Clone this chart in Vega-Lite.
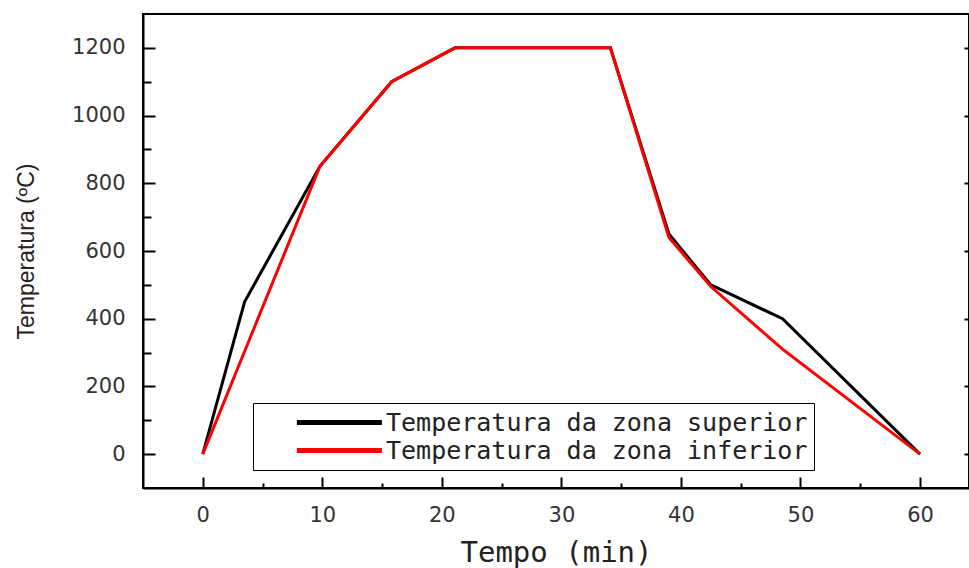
{
  "$schema": "https://vega.github.io/schema/vega-lite/v6.json",
  "width": 826,
  "height": 474,
  "autosize": "none",
  "padding": {"left": 143, "top": 14, "right": 0, "bottom": 80},
  "background": "white",
  "config": {
    "view": {"stroke": "#000000", "strokeWidth": 2},
    "axis": {
      "domainColor": "#000000",
      "domainWidth": 2,
      "tickColor": "#000000",
      "tickWidth": 2,
      "grid": false,
      "labelFont": "DejaVu Sans",
      "labelFontSize": 21,
      "labelColor": "#333333",
      "titleFont": "Liberation Sans",
      "titleFontWeight": "normal",
      "titleColor": "#222222"
    }
  },
  "data": {
    "values": [
      {"t": 0, "temp": 0, "zona": "Temperatura da zona superior"},
      {"t": 3.5, "temp": 450, "zona": "Temperatura da zona superior"},
      {"t": 9.8, "temp": 850, "zona": "Temperatura da zona superior"},
      {"t": 15.8, "temp": 1100, "zona": "Temperatura da zona superior"},
      {"t": 21.1, "temp": 1200, "zona": "Temperatura da zona superior"},
      {"t": 34.1, "temp": 1200, "zona": "Temperatura da zona superior"},
      {"t": 39, "temp": 650, "zona": "Temperatura da zona superior"},
      {"t": 42.5, "temp": 500, "zona": "Temperatura da zona superior"},
      {"t": 48.5, "temp": 400, "zona": "Temperatura da zona superior"},
      {"t": 60, "temp": 0, "zona": "Temperatura da zona superior"},
      {"t": 0, "temp": 0, "zona": "Temperatura da zona inferior"},
      {"t": 9.8, "temp": 850, "zona": "Temperatura da zona inferior"},
      {"t": 15.8, "temp": 1100, "zona": "Temperatura da zona inferior"},
      {"t": 21.1, "temp": 1200, "zona": "Temperatura da zona inferior"},
      {"t": 34.1, "temp": 1200, "zona": "Temperatura da zona inferior"},
      {"t": 39, "temp": 640, "zona": "Temperatura da zona inferior"},
      {"t": 42.5, "temp": 495, "zona": "Temperatura da zona inferior"},
      {"t": 48.5, "temp": 310, "zona": "Temperatura da zona inferior"},
      {"t": 60, "temp": 0, "zona": "Temperatura da zona inferior"}
    ]
  },
  "layer": [
    {
      "mark": {"type": "line", "strokeWidth": 3},
      "encoding": {
        "x": {
          "field": "t", "type": "quantitative",
          "scale": {"domain": [-5, 64.1], "nice": false, "zero": false},
          "axis": {"orient": "bottom", "values": [0, 10, 20, 30, 40, 50, 60], "format": "d", "tickSize": -11, "labelPadding": 27, "title": "Tempo (min)", "titleFont": "DejaVu Sans Mono", "titleFontSize": 29, "titlePadding": 13}
        },
        "y": {
          "field": "temp", "type": "quantitative",
          "scale": {"domain": [-100, 1300], "nice": false, "zero": false},
          "axis": {"orient": "left", "values": [0, 200, 400, 600, 800, 1000, 1200], "format": "d", "tickSize": -12, "labelPadding": 30, "title": "Temperatura (ºC)", "titleFontSize": 23, "titlePadding": 33}
        },
        "color": {
          "field": "zona", "type": "nominal",
          "scale": {"domain": ["Temperatura da zona superior", "Temperatura da zona inferior"], "range": ["#000000", "#ff0000"]},
          "legend": {
            "orient": "none", "legendX": 110, "legendY": 389, "title": null,
            "strokeColor": "#000000", "fillColor": "#ffffff", "padding": 6,
            "symbolType": "M-1,0H7", "symbolSize": 452, "symbolStrokeWidth": 5,
            "symbolOffset": 35, "labelOffset": 65, "labelLimit": 700,
            "labelFont": "DejaVu Sans Mono", "labelFontSize": 25, "labelColor": "#222222",
            "rowPadding": 1
          }
        }
      }
    },
    {
      "mark": {"type": "line", "opacity": 0},
      "encoding": {
        "x": {
          "field": "t", "type": "quantitative",
          "axis": {"orient": "bottom", "values": [5, 15, 25, 35, 45, 55], "tickSize": -5, "labels": false, "domain": false, "title": null}
        },
        "y": {
          "field": "temp", "type": "quantitative",
          "axis": {"orient": "left", "values": [100, 300, 500, 700, 900, 1100], "tickSize": -8, "labels": false, "domain": false, "title": null}
        },
        "detail": {"field": "zona"}
      }
    },
    {
      "mark": {"type": "line", "opacity": 0},
      "encoding": {
        "x": {"field": "t", "type": "quantitative", "axis": null},
        "y": {
          "field": "temp", "type": "quantitative",
          "axis": {"orient": "right", "values": [0, 200, 400, 600, 800, 1000, 1200], "tickSize": -5, "labels": false, "domain": false, "title": null}
        },
        "detail": {"field": "zona"}
      }
    }
  ],
  "resolve": {"axis": {"x": "independent", "y": "independent"}}
}
